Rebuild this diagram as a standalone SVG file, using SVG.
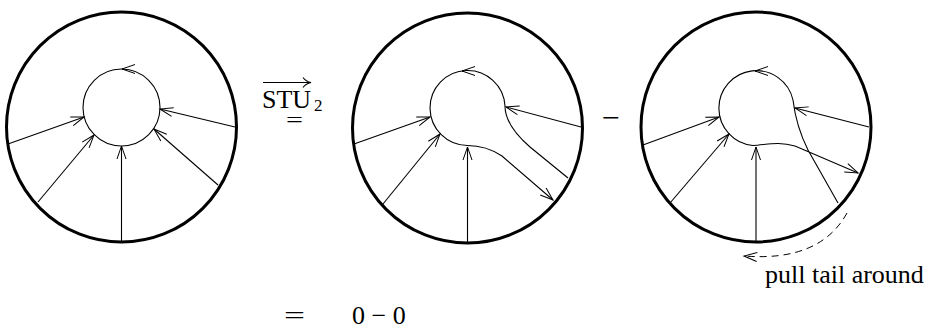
<svg xmlns="http://www.w3.org/2000/svg" width="930" height="330" viewBox="0 0 930 330">
<style>
.outer{fill:none;stroke:#000;stroke-width:3}
.thin{fill:none;stroke:#000;stroke-width:1.1}
.arr{marker-end:url(#v)}
.dash{fill:none;stroke:#000;stroke-width:1;stroke-dasharray:7 5}
.t{fill:#000}
</style>
<defs>
<marker id="v" markerUnits="userSpaceOnUse" viewBox="-15 -7 17 14" refX="0" refY="0" markerWidth="17" markerHeight="14" orient="auto" overflow="visible">
<path d="M-13,-4.5 L0,0 L-13,4.5" fill="none" stroke="#000" stroke-width="1"/>
</marker>
</defs>
<rect width="930" height="330" fill="#fff"/>

<g id="disk1">
<circle class="outer" cx="121.5" cy="127" r="115"/>
<circle class="thin" cx="121.5" cy="107.5" r="38.5"/>
<g class="thin">
<path class="arr" d="M124,69 L122,69"/>
<path class="arr" d="M8,144 L84,117"/>
<path class="arr" d="M38,202 L94,135"/>
<path class="arr" d="M121.5,241 L121.5,146"/>
<path class="arr" d="M218,185 L154,129"/>
<path class="arr" d="M235,127 L160,109"/>
</g>
</g>

<g id="op1">
<path class="thin" d="M263,82.5 L310,82.5 M303,77.5 Q306,81.5 311,82.5 Q306,83.5 303,87.5"/>
<text class="t" x="262" y="108" font-size="26" font-family="'Liberation Serif', 'Times New Roman', serif">STU</text>
<text class="t" x="314" y="111" font-size="17" font-family="'Liberation Serif', 'Times New Roman', serif">2</text>
<text class="t" x="286" y="127" font-size="22" textLength="17" lengthAdjust="spacingAndGlyphs" font-family="'Liberation Serif', 'Times New Roman', serif">=</text>
</g>

<g id="disk2">
<circle class="outer" cx="467.5" cy="128" r="115"/>
<g class="thin">
<path class="arr" d="M568,178 L530,147 C515,134 505,120 505,106 A37.5,37.5 0 1 0 467.5,145.5 C480,145.5 490,148 502,156 L553,200"/>
<path class="arr" d="M464,71 L462,71"/>
<path class="arr" d="M354,144 L430,117"/>
<path class="arr" d="M383,204 L440,134"/>
<path class="arr" d="M467.5,242 L467.5,147"/>
<path class="arr" d="M581,127 L506,107"/>
</g>
</g>

<g id="minus">
<text class="t" x="602" y="127" font-size="28" textLength="18" lengthAdjust="spacingAndGlyphs" font-family="'Liberation Serif', 'Times New Roman', serif">−</text>
</g>

<g id="disk3">
<circle class="outer" cx="756" cy="127" r="115"/>
<g class="thin">
<path class="arr" d="M838,203 L808,150 C801,136 795,117 793,100 A37.5,37.5 0 1 0 753,145.5 C766,145 778,141 795,146 L858,173"/>
<path class="arr" d="M757,71 L755,71"/>
<path class="arr" d="M643,145 L719,117"/>
<path class="arr" d="M670,203 L729,134"/>
<path class="arr" d="M756,242 L756,147"/>
<path class="arr" d="M869,127 L795,108"/>
</g>
</g>

<g id="connectors">
<path class="dash arr" d="M847,213 Q820,262 744,256"/>
</g>

<g id="note">
<text class="t" x="765" y="283" font-size="26" font-family="'Liberation Serif', 'Times New Roman', serif">pull tail around</text>
</g>

<g id="result">
<text class="t" x="284" y="324" font-size="26" textLength="21" lengthAdjust="spacingAndGlyphs" font-family="'Liberation Serif', 'Times New Roman', serif">=</text>
<text class="t" x="352" y="324" font-size="26" font-family="'Liberation Serif', 'Times New Roman', serif">0 − 0</text>
</g>
</svg>
